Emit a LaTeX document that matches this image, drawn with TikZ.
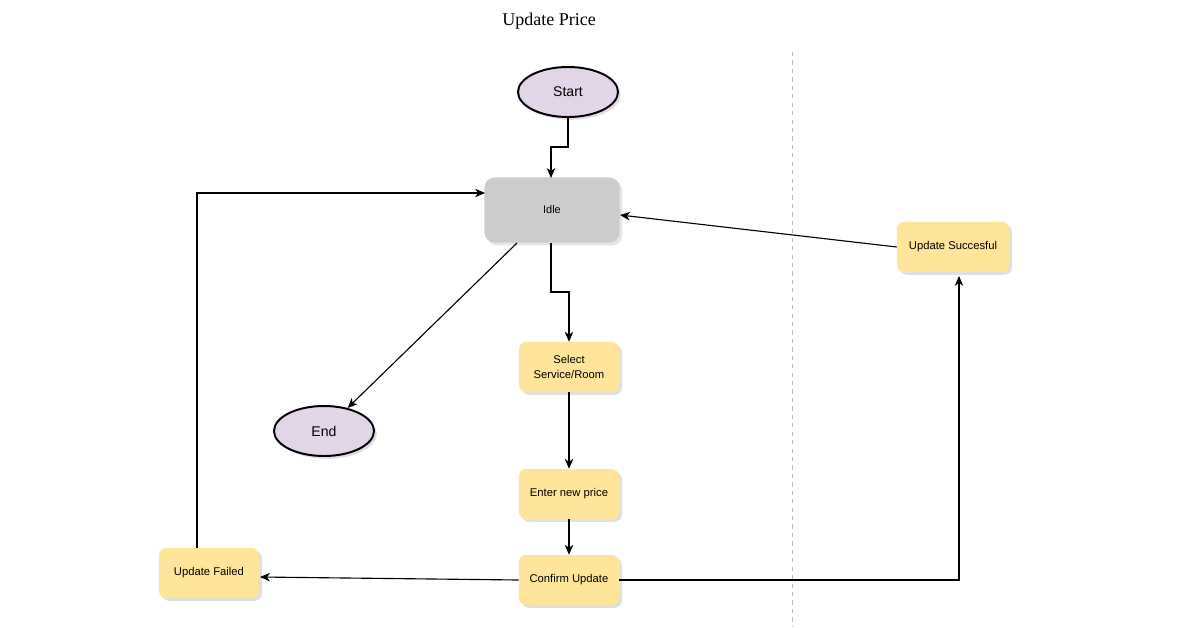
\documentclass[tikz,border=0pt]{standalone}
\usepackage{fontspec}
\setmainfont{Liberation Sans}
\newfontfamily\titlefont{Liberation Serif}
\usetikzlibrary{arrows.meta}
\usetikzlibrary{positioning}
\usetikzlibrary{shapes.geometric}
\usetikzlibrary{shadows}
\definecolor{lavender}{HTML}{E1D5E7}
\definecolor{idlegray}{HTML}{CCCCCC}
\definecolor{stepyellow}{HTML}{FFE599}
\definecolor{lanegray}{HTML}{BBBBBB}
\tikzset{flow/.style = {-{Stealth[length=7pt, width=6pt, inset=2pt]}, line width=0.8pt}}
\tikzset{terminal/.style = {ellipse, draw, line width=1.4pt, fill=lavender,
                            minimum width=2.5cm, minimum height=1.25cm,
                            font=\fontsize{10}{12}\selectfont,
                            drop shadow={shadow xshift=0.07cm, shadow yshift=-0.07cm, opacity=0.25}}}
\tikzset{statebox/.style = {rectangle, rounded corners=0.25cm, fill=idlegray,
                            minimum width=3.375cm, minimum height=1.625cm,
                            font=\fontsize{7.8}{9}\selectfont,
                            drop shadow={shadow xshift=0.07cm, shadow yshift=-0.07cm, opacity=0.2}}}
\tikzset{stepbox/.style = {rectangle, rounded corners=0.18cm, fill=stepyellow,
                           minimum width=2.5cm, minimum height=1.25cm, align=center,
                           font=\fontsize{8}{10}\selectfont,
                           drop shadow={shadow xshift=0.07cm, shadow yshift=-0.07cm, opacity=0.25}}}

\begin{document}
\begin{tikzpicture}[x=0.025cm, y=-0.025cm]
      \useasboundingbox (0, 0) rectangle (1198, 627);

      \node [font=\titlefont\fontsize{12.8}{15}\selectfont] (title) at (549, 21) {Update Price};
      \draw [lanegray, dash pattern=on 3pt off 3pt, line width=0.6pt] (792, 52) -- (792, 627);

      \node [terminal] (start) at (568, 92) {Start};
      \node [statebox] (idle) at (552, 210) {Idle};
      \node [stepbox] (select) at (569, 367) {Select\\Service/Room};
      \node [stepbox] (enter) at (569, 494) {Enter new price};
      \node [stepbox] (confirm) at (569, 580) {Confirm Update};
      \node [stepbox] (failed) at (209, 573) {Update Failed};
      \node [stepbox, minimum width=2.8cm] (success) at (953, 247) {Update Succesful};
      \node [terminal] (end) at (324, 431) {End};

      \coordinate (idletopin) at (551, 178);
      \coordinate (idleleftin) at (485, 193);
      \coordinate (idlerightin) at (620, 215);
      \coordinate (successbot) at (959, 276);
      \coordinate (failedin) at (260, 577);

      \draw [flow] (start.south) |- (568, 147) -| (idletopin);
      \draw [flow] (idle.south -| idletopin) |- (569, 292) -- (select.north);
      \draw [flow] (517, 243) -- (end);
      \draw [flow] (select) -- (enter);
      \draw [flow] (enter) -- (confirm);
      \draw [flow] (confirm.west) -- (failedin);
      \draw [flow] (confirm.east) -| (successbot);
      \draw [flow] (success.west) -- (idlerightin);
      \draw [flow] (failed.north -| 197, 0) |- (idleleftin);
\end{tikzpicture}
\end{document}
